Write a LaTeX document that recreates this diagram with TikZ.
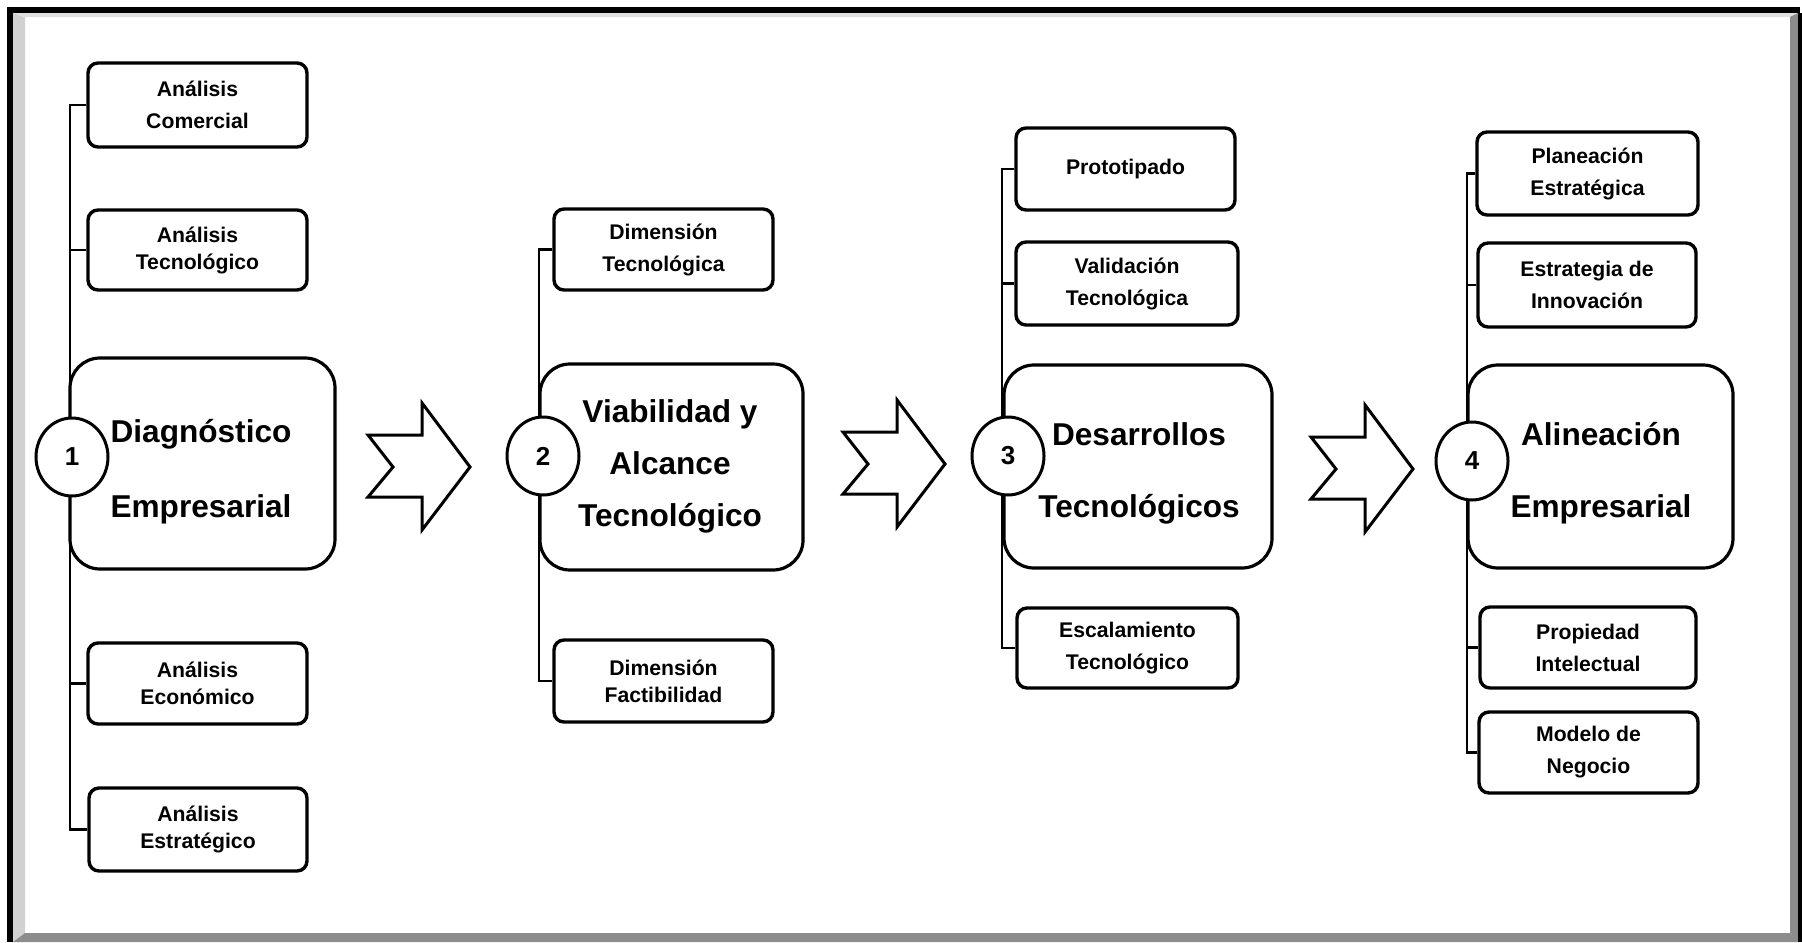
\documentclass[tikz,border=0pt]{standalone}
\usepackage{fontspec}
\setmainfont{Liberation Sans}
\usetikzlibrary{shapes.geometric}
\begin{document}
\begin{tikzpicture}[x=0.5pt,y=-0.5pt,
  smallbox/.style={draw, line width=1.7pt, rounded corners=5pt, fill=white,
    align=center, inner sep=0pt, font=\fontsize{10.6}{16}\selectfont\bfseries},
  tightbox/.style={smallbox, font=\fontsize{10.6}{13.5}\selectfont\bfseries},
  bigbox/.style={draw, line width=1.6pt, rounded corners=15pt, fill=white, inner sep=0pt},
  bigtext/.style={align=center, inner sep=0pt},
  numcircle/.style={draw, ellipse, line width=1.5pt, fill=white, inner sep=0pt,
    minimum width=36pt, minimum height=39pt, font=\fontsize{13}{14}\selectfont\bfseries},
  trunk/.style={line width=1.2pt},
  chev/.pic={\draw[line width=1.5pt, line join=miter, fill=white]
    (0,-32) -- (25,0) -- (0,30) -- (54,30) -- (54,63) -- (102,0) -- (54,-64) -- (54,-32) -- cycle;}
]
\useasboundingbox (0,0) rectangle (1802,942);

% bevelled frame
\fill[white] (0,0) rectangle (1802,942);
\fill[black!18] (13,13) -- (25,17) -- (25,933) -- (13,942) -- cycle;
\fill[black!12] (13,13) -- (1798,13) -- (1790,17) -- (25,17) -- cycle;
\fill[black!45] (1798,13) -- (1798,942) -- (1790,933) -- (1790,17) -- cycle;
\fill[black!45] (13,942) -- (1798,942) -- (1790,933) -- (25,933) -- cycle;
\fill[black] (7,7) rectangle (1800,13);
\fill[black] (7,7) rectangle (13,942);
\fill[black] (1798,13) rectangle (1802,942);

% trunk positions
\coordinate (k1) at (70,0);
\coordinate (k2) at (539,0);
\coordinate (k3) at (1002,0);
\coordinate (k4) at (1467,0);

% ---- stage 1
\node[smallbox, minimum width=109.5pt, minimum height=42pt] (c1a) at (197.5,105) {Análisis\\Comercial};
\node[tightbox, minimum width=109.5pt, minimum height=40pt] (c1b) at (197.5,250) {Análisis\\Tecnológico};
\node[tightbox, minimum width=109.5pt, minimum height=40.5pt] (c1c) at (197.5,683.5) {Análisis\\Económico};
\node[tightbox, minimum width=109pt, minimum height=41.5pt] (c1d) at (198,829.5) {Análisis\\Estratégico};
\draw[trunk] (c1a.west) -- (c1a.west -| k1) -- (c1d.west -| k1) -- (c1d.west);
\draw[trunk] (c1b.west) -- (c1b.west -| k1);
\draw[trunk] (c1c.west) -- (c1c.west -| k1);
\node[bigbox, minimum width=132.5pt, minimum height=105.5pt] (c1) at (202.5,463.5) {};
\node[bigtext, font=\fontsize{15.8}{37.5}\selectfont\bfseries] (t1) at (201,472) {Diagnóstico\\Empresarial};
\node[numcircle] (n1) at (72,457) {1};

% ---- stage 2
\node[smallbox, minimum width=109.5pt, minimum height=40.5pt] (c2a) at (663.5,249.5) {Dimensión\\Tecnológica};
\node[tightbox, minimum width=109.5pt, minimum height=41pt] (c2b) at (663.5,681) {Dimensión\\Factibilidad};
\draw[trunk] (c2a.west) -- (c2a.west -| k2) -- (c2b.west -| k2) -- (c2b.west);
\node[bigbox, minimum width=131.5pt, minimum height=103pt] (c2) at (671.5,467) {};
\node[bigtext, font=\fontsize{15.8}{26}\selectfont\bfseries] (t2) at (670,466) {Viabilidad y\\Alcance\\Tecnológico};
\node[numcircle] (n2) at (543,456) {2};

% ---- stage 3
\node[smallbox, minimum width=109.5pt, minimum height=41pt] (c3a) at (1125.5,169) {Prototipado};
\node[smallbox, minimum width=111pt, minimum height=41.5pt] (c3b) at (1127,283.5) {Validación\\Tecnológica};
\node[smallbox, minimum width=110.5pt, minimum height=40pt] (c3c) at (1127.5,648) {Escalamiento\\Tecnológico};
\draw[trunk] (c3a.west) -- (c3a.west -| k3) -- (c3c.west -| k3) -- (c3c.west);
\draw[trunk] (c3b.west) -- (c3b.west -| k3);
\node[bigbox, minimum width=134pt, minimum height=101.5pt] (c3) at (1138,466.5) {};
\node[bigtext, font=\fontsize{15.8}{36}\selectfont\bfseries] (t3) at (1139,473) {Desarrollos\\Tecnológicos};
\node[numcircle] (n3) at (1008,456) {3};

% ---- stage 4
\node[smallbox, minimum width=110.5pt, minimum height=41.5pt] (c4a) at (1587.5,173.5) {Planeación\\Estratégica};
\node[smallbox, minimum width=109pt, minimum height=42pt] (c4b) at (1587,285) {Estrategia de\\Innovación};
\node[smallbox, minimum width=108pt, minimum height=40.5pt] (c4c) at (1588,647.5) {Propiedad\\Intelectual};
\node[smallbox, minimum width=109.5pt, minimum height=40.5pt] (c4d) at (1588.5,752.5) {Modelo de\\Negocio};
\draw[trunk] (c4a.west) -- (c4a.west -| k4) -- (c4d.west -| k4) -- (c4d.west);
\draw[trunk] (c4b.west) -- (c4b.west -| k4);
\draw[trunk] (c4c.west) -- (c4c.west -| k4);
\node[bigbox, minimum width=132.5pt, minimum height=101.5pt] (c4) at (1600.5,466.5) {};
\node[bigtext, font=\fontsize{15.8}{36}\selectfont\bfseries] (t4) at (1601,473) {Alineación\\Empresarial};
\node[numcircle] (n4) at (1472,461) {4};

% ---- stage arrows
\pic at (368,467) {chev};
\pic at (843,464) {chev};
\pic at (1311,469) {chev};
\end{tikzpicture}
\end{document}
